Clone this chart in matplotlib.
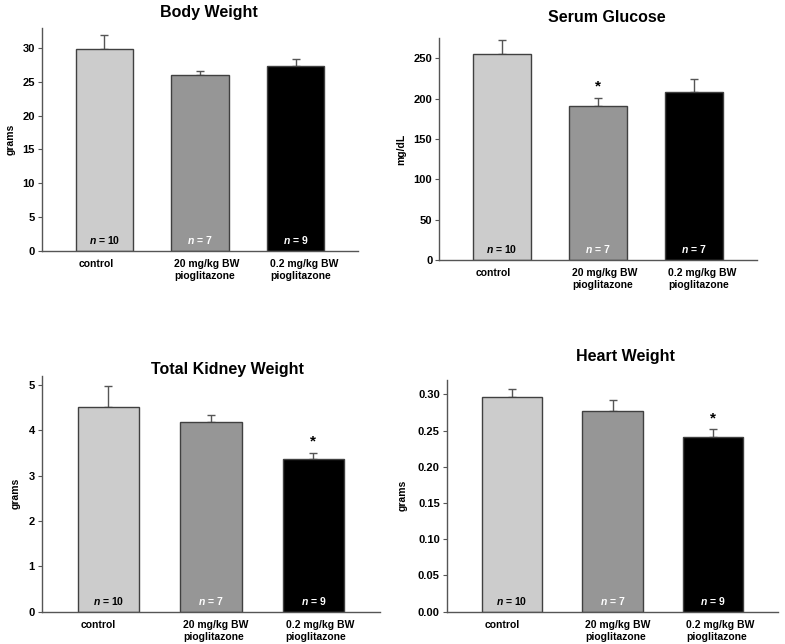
import numpy as np
import matplotlib.pyplot as plt

plt.rcParams['font.family'] = ['Liberation Sans', 'DejaVu Sans']
plt.rcParams['font.weight'] = 'bold'
plt.rcParams['mathtext.fontset'] = 'custom'
plt.rcParams['mathtext.it'] = 'Liberation Sans:italic:bold'
plt.rcParams['mathtext.rm'] = 'Liberation Sans:bold'

groups = ['control', '20 mg/kg BW\npioglitazone', '0.2 mg/kg BW\npioglitazone']
bar_colors = ['#cccccc', '#969696', '#000000']
n_colors = ['black', 'white', 'white']

body_mean = [29.9, 26.0, 27.3]
body_err = [2.1, 0.7, 1.1]
body_n = [10, 7, 9]

glucose_mean = [256, 191, 209]
glucose_err = [17, 10, 16]
glucose_n = [10, 7, 7]

kidney_mean = [4.51, 4.19, 3.36]
kidney_err = [0.48, 0.14, 0.15]
kidney_n = [10, 7, 9]

heart_mean = [0.297, 0.277, 0.241]
heart_err = [0.011, 0.015, 0.011]
heart_n = [10, 7, 9]

W, H = 785, 644
fig = plt.figure(figsize=(W / 100, H / 100), dpi=100)


def px_axes(x0, x1, y0, y1):
    # pixel box (left, right, top, bottom) -> figure fraction
    return fig.add_axes([x0 / W, 1 - y1 / H, (x1 - x0) / W, (y1 - y0) / H])


def panel(box, title, title_xy, mean, err, ns, ylim, yticks, fmt, ylabel, ylab_x, star=None):
    ax = px_axes(*box)
    x = np.arange(3)
    ax.bar(x, mean, width=0.6, color=bar_colors, edgecolor='#404040', linewidth=1.0, zorder=2)
    ax.errorbar(x, mean, yerr=[np.zeros(3), err], fmt='none', ecolor='#555555',
                elinewidth=1.0, capsize=3, capthick=1.0, zorder=1)
    ax.set_xlim(-0.65, 2.65)
    ax.set_ylim(*ylim)
    ax.set_yticks(yticks)
    ax.set_yticklabels([fmt.format(v) for v in yticks], fontsize=8, fontweight='bold')
    ax.set_xticks([])
    for s in ['top', 'right']:
        ax.spines[s].set_visible(False)
    for s in ['left', 'bottom']:
        ax.spines[s].set_color('#555555')
        ax.spines[s].set_linewidth(1.0)
    ax.tick_params(axis='y', length=3, width=0.8, color='#555555', pad=2)
    ax.set_ylabel(ylabel, fontsize=7.5, fontweight='bold')
    ax.yaxis.set_label_coords(ylab_x, 0.5)
    for i in range(3):
        ax.annotate(groups[i], xy=(x[i] - 0.27, 0), xycoords=('data', 'axes fraction'),
                    xytext=(0, -6), textcoords='offset points', ha='left', va='top',
                    fontsize=7.5, fontweight='bold', linespacing=1.25)
        ax.annotate(r'$\mathit{n}$ = %d' % ns[i], xy=(x[i], 0), xytext=(0, 8),
                    textcoords='offset points', ha='center', va='center',
                    fontsize=7.5, fontweight='bold', color=n_colors[i])
    if star is not None:
        ax.annotate('*', xy=(x[star], mean[star] + err[star]), xytext=(0, 3),
                    textcoords='offset points', ha='center', va='bottom',
                    fontsize=11, fontweight='bold')
    fig.text(title_xy[0] / W, 1 - title_xy[1] / H, title, ha='center', va='center',
             fontsize=11.5, fontweight='bold')
    return ax


panel((42, 358, 28, 250.7), 'Body Weight', (209, 13), body_mean, body_err, body_n,
      (0, 33), [0, 5, 10, 15, 20, 25, 30], '{:g}', 'grams', -0.085)
panel((439.3, 756.7, 38.3, 260), 'Serum Glucose', (607, 17), glucose_mean, glucose_err,
      glucose_n, (0, 275), [0, 50, 100, 150, 200, 250], '{:g}', 'mg/dL', -0.105, star=1)
panel((41.7, 380, 376, 611.7), 'Total Kidney Weight', (227, 369), kidney_mean, kidney_err,
      kidney_n, (0, 5.2), [0, 1, 2, 3, 4, 5], '{:g}', 'grams', -0.062, star=2)
panel((446.7, 778.3, 380, 611.7), 'Heart Weight', (625.5, 356), heart_mean, heart_err,
      heart_n, (0, 0.32), [0, 0.05, 0.10, 0.15, 0.20, 0.25, 0.30], '{:.2f}', 'grams',
      -0.118, star=2)

fig.savefig('out.png', dpi=100)
